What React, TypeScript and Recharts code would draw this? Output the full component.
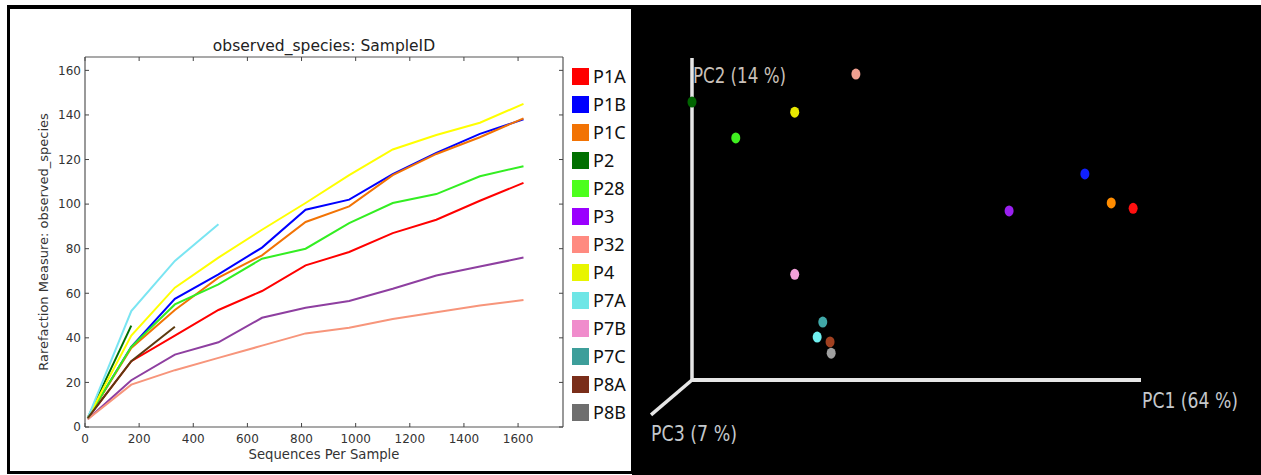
import {
  Line,
  LineChart,
  ReferenceLine,
  Scatter,
  ScatterChart,
  XAxis,
  YAxis,
} from "recharts";

// Sample order used by every array below
const SAMPLE_IDS = ["P1A", "P1B", "P1C", "P2", "P28", "P3", "P32", "P4", "P7A", "P7B", "P7C", "P8A", "P8B"];

// Rarefaction depths (sequences per sample)
const DEPTHS = [10, 171, 332, 493, 654, 815, 976, 1137, 1298, 1459, 1620];

// Observed species at each depth; short series stop where the sample ran out of reads
const P1A = [4, 29.5, 41, 52.5, 61, 72.5, 78.5, 87, 93, 101.5, 109.5];
const P1B = [4, 36, 57.5, 68.5, 80.5, 97.5, 102, 113.5, 123, 131.5, 138];
const P1C = [4, 35.5, 52.5, 67, 77, 92, 99, 113, 122.5, 130, 138.5];
const P2 = [4, 45.5];
const P28 = [4, 36, 55, 64, 75.5, 80, 91.5, 100.5, 104.5, 112.5, 117];
const P3 = [3.5, 21, 32.5, 38, 49, 53.5, 56.5, 62, 68, 72, 76];
const P32 = [3.5, 19, 25.5, 31, 36.5, 42, 44.5, 48.5, 51.5, 54.5, 57];
const P4 = [4, 41, 62.5, 76, 88.5, 100.5, 113, 124.5, 131, 136.5, 145];
const P7A = [4, 52, 74.5, 91];
const P7B = [4];
const P7C = [4];
const P8A = [4, 29.5, 45];
const P8B = [4];
const SERIES = [P1A, P1B, P1C, P2, P28, P3, P32, P4, P7A, P7B, P7C, P8A, P8B];

const LINE_COLORS = ["#ff0000", "#0000ff", "#f27304", "#007000", "#33ee22", "#8e3fa0", "#f7957b", "#ffff00", "#7ae5f2", "#f08ccc", "#3d9e9a", "#5c3a10", "#6e6e6e"];
const SWATCH_COLORS = ["#ff0000", "#0000ff", "#f27304", "#007000", "#4cff1c", "#9a00ff", "#ff8a80", "#e8f500", "#6ee6e6", "#f08ccc", "#3d9e9a", "#7a2e1a", "#6e6e6e"];

const X_TICKS = [0, 200, 400, 600, 800, 1000, 1200, 1400, 1600];
const Y_TICKS = [0, 20, 40, 60, 80, 100, 120, 140, 160];

// PCoA scores (projected view of PC1/PC2/PC3)
const PC1_SCORES = [0.446, 0.36, 0.407, -0.34, -0.262, 0.225, -0.048, -0.157, -0.117, -0.157, -0.107, -0.094, -0.092];
const PC2_SCORES = [0.07, 0.134, 0.08, 0.268, 0.201, 0.065, 0.32, 0.249, -0.17, -0.053, -0.142, -0.179, -0.2];
const DOT_COLORS = ["#ff1010", "#1020ff", "#ff8c00", "#006400", "#40f020", "#9a20f0", "#f0a090", "#e8e800", "#70f0f0", "#f0a0d8", "#40a8a8", "#a04020", "#a0a0a0"];

const rarefactionRows = DEPTHS.map((depth, i) => {
  const row: Record<string, number> = { depth };
  SAMPLE_IDS.forEach((id, s) => {
    const value = SERIES[s][i];
    if (value !== undefined) row[id] = value;
  });
  return row;
});

const pcoaPoints = SAMPLE_IDS.map((id, i) => ({
  id,
  pc1: PC1_SCORES[i],
  pc2: PC2_SCORES[i],
  color: DOT_COLORS[i],
}));

const MPL_FONT = "'DejaVu Sans', sans-serif";
const PCOA_FONT = "'DejaVu Sans Condensed', 'Liberation Sans', sans-serif";
const FRAME = "#555";

// inward matplotlib-style ticks: only the tick line, no label
const noTickLabel = () => <g />;

function RarefactionLegend() {
  return (
    <div style={{ position: "absolute", left: 562, top: 53, fontFamily: "'Noto Sans', sans-serif" }}>
      {SAMPLE_IDS.map((id, i) => (
        <div key={id} style={{ display: "flex", alignItems: "center", height: 28 }}>
          <span style={{ width: 17, height: 17, background: SWATCH_COLORS[i], marginRight: 4 }} />
          <span style={{ fontSize: 18, color: "#111", lineHeight: "28px" }}>{id}</span>
        </div>
      ))}
    </div>
  );
}

function RarefactionPanel() {
  return (
    <div style={{ position: "absolute", left: 10, top: 9, width: 621, height: 462, background: "#fff" }}>
      <LineChart width={621} height={462} data={rarefactionRows} margin={{ top: 48, right: 68, bottom: 0, left: 30 }}>
        <XAxis
          dataKey="depth"
          type="number"
          domain={[0, 1766]}
          ticks={X_TICKS}
          allowDataOverflow
          height={44}
          tickLine={false}
          tickSize={4}
          tickMargin={3}
          tick={{ fill: "#333", fontSize: 12, fontFamily: MPL_FONT }}
          axisLine={{ stroke: FRAME, strokeWidth: 1.2 }}
          label={(props: any) => (
            <text x={props.viewBox.x + props.viewBox.width / 2} y={props.viewBox.y + 32} textAnchor="middle" fontSize={13.2} fontFamily={MPL_FONT} fill="#333">
              Sequences Per Sample
            </text>
          )}
        />
        <XAxis xAxisId="bottomTicks" dataKey="depth" type="number" domain={[0, 1766]} ticks={X_TICKS} allowDataOverflow mirror height={1} tick={noTickLabel} tickSize={4} tickLine={{ stroke: "#444" }} axisLine={false} />
        <XAxis
          xAxisId="top"
          orientation="top"
          dataKey="depth"
          type="number"
          domain={[0, 1766]}
          ticks={X_TICKS}
          allowDataOverflow
          mirror
          height={1}
          tick={noTickLabel}
          tickSize={4}
          tickLine={{ stroke: "#444" }}
          axisLine={{ stroke: FRAME, strokeWidth: 1.2 }}
          label={(props: any) => (
            <text x={props.viewBox.x + props.viewBox.width / 2} y={props.viewBox.y - 6} textAnchor="middle" fontSize={15.5} fontFamily={MPL_FONT} fill="#222">
              observed_species: SampleID
            </text>
          )}
        />
        <YAxis
          type="number"
          domain={[0, 166]}
          ticks={Y_TICKS}
          allowDataOverflow
          width={45}
          tickLine={false}
          tickSize={2}
          tickMargin={2}
          tick={{ fill: "#333", fontSize: 12, fontFamily: MPL_FONT }}
          axisLine={{ stroke: FRAME, strokeWidth: 1.2 }}
          label={(props: any) => {
            const cx = props.viewBox.x + 8;
            const cy = props.viewBox.y + props.viewBox.height / 2;
            return (
              <text transform={`translate(${cx},${cy}) rotate(-90)`} textAnchor="middle" fontSize={13} fontFamily={MPL_FONT} fill="#333">
                Rarefaction Measure: observed_species
              </text>
            );
          }}
        />
        <YAxis yAxisId="leftTicks" type="number" domain={[0, 166]} ticks={Y_TICKS} allowDataOverflow mirror width={1} tick={noTickLabel} tickSize={4} tickLine={{ stroke: "#444" }} axisLine={false} />
        <YAxis yAxisId="right" orientation="right" type="number" domain={[0, 166]} ticks={Y_TICKS} allowDataOverflow mirror width={1} tick={noTickLabel} tickSize={4} tickLine={{ stroke: "#444" }} axisLine={{ stroke: FRAME, strokeWidth: 1.2 }} />
        {SAMPLE_IDS.map((id, i) => (
          <Line
            key={id}
            dataKey={id}
            stroke={LINE_COLORS[i]}
            strokeWidth={2}
            dot={false}
            activeDot={false}
            connectNulls={false}
            isAnimationActive={false}
          />
        ))}
      </LineChart>
      <RarefactionLegend />
    </div>
  );
}

function PcoaDot(props: any) {
  const { cx, cy, payload } = props;
  return <ellipse cx={cx} cy={cy} rx={4.5} ry={5.5} fill={payload.color} />;
}

function PcoaPanel() {
  return (
    <div style={{ position: "absolute", left: 632, top: 5, width: 629, height: 470, background: "#000" }}>
      <ScatterChart width={629} height={470} margin={{ top: 53, right: 120, bottom: 65, left: 30 }}>
        <XAxis
          dataKey="pc1"
          type="number"
          domain={[-0.34, 0.46]}
          height={30}
          tick={false}
          tickLine={false}
          axisLine={{ stroke: "#e6e6e6", strokeWidth: 4 }}
          label={(props: any) => (
            <text x={props.viewBox.x + props.viewBox.width + 1} y={props.viewBox.y + 28} fontSize={21} textLength={96} lengthAdjust="spacingAndGlyphs" fontFamily={PCOA_FONT} fill="#c4c8cc">
              PC1 (64 %)
            </text>
          )}
        />
        <YAxis
          dataKey="pc2"
          type="number"
          domain={[-0.25, 0.35]}
          width={30}
          tick={false}
          tickLine={false}
          axisLine={{ stroke: "#e6e6e6", strokeWidth: 3.5 }}
          label={(props: any) => (
            <text x={props.viewBox.x + props.viewBox.width + 1} y={props.viewBox.y + 25} fontSize={21} textLength={93} lengthAdjust="spacingAndGlyphs" fontFamily={PCOA_FONT} fill="#c9c0ba">
              PC2 (14 %)
            </text>
          )}
        />
        <ReferenceLine
          segment={[
            { x: -0.34, y: -0.25 },
            { x: -0.413, y: -0.315 },
          ]}
          ifOverflow="visible"
          stroke="#e6e6e6"
          strokeWidth={3.5}
          label={(props: any) => (
            <text x={props.viewBox.x} y={props.viewBox.y + props.viewBox.height + 26} fontSize={21} textLength={86} lengthAdjust="spacingAndGlyphs" fontFamily={PCOA_FONT} fill="#c4c8cc">
              PC3 (7 %)
            </text>
          )}
        />
        <Scatter data={pcoaPoints} shape={PcoaDot} isAnimationActive={false} />
      </ScatterChart>
    </div>
  );
}

export default function App() {
  return (
    <div style={{ position: "fixed", left: 0, top: 0, width: 1261, height: 475, background: "#fff" }}>
      <div style={{ position: "absolute", left: 7, top: 5, width: 1254, height: 469, background: "#000" }} />
      <RarefactionPanel />
      <PcoaPanel />
    </div>
  );
}
